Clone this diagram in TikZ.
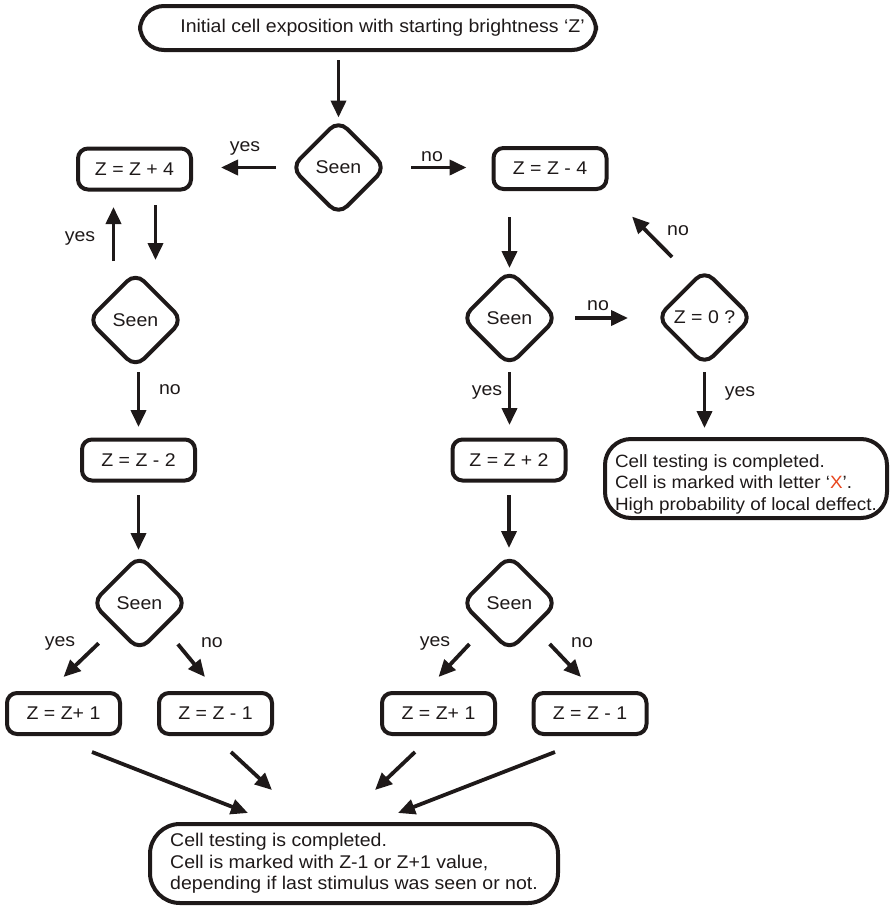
\documentclass[tikz,border=0pt]{standalone}
\usepackage{fontspec}
\setmainfont{Liberation Sans}[FakeStretch=1.06]
\usetikzlibrary{shapes.geometric,arrows.meta}
\definecolor{ink}{RGB}{30,25,25}
\definecolor{xred}{RGB}{232,70,30}
\tikzset{
  every node/.style={font=\fontsize{18.4}{21.5}\selectfont, text=ink},
  box/.style={draw=ink, line width=4pt, rounded corners=10pt, rectangle,
    minimum width=113pt, minimum height=41pt, inner sep=0pt},
  bigbox/.style={draw=ink, line width=4pt, rounded corners=26pt, rectangle,
    align=left, inner sep=0pt},
  dia/.style={draw=ink, line width=4pt, diamond, rounded corners=12pt,
    minimum width=96pt, minimum height=96pt, inner sep=0pt},
  arr/.style={draw=ink, line width=3.8pt, -{Triangle[length=17pt,width=15pt]}},
  lbl/.style={inner sep=0pt}
}
\begin{document}
\begin{tikzpicture}[x=1pt,y=-1pt]
\useasboundingbox (0,0) rectangle (891,908);
% nodes
\node[bigbox, rounded corners=24pt, minimum width=456pt, minimum height=44pt] (top) at (368,28) {\hspace*{29pt}Initial cell exposition with starting brightness ‘Z’};
\node[dia] (d1) at (338.5,167.5) {Seen};
\node[box] (b4p) at (134.5,169) {Z = Z + 4};
\node[box] (b4m) at (550,168.5) {Z = Z - 4};
\node[dia] (d2) at (135.5,320) {Seen};
\node[box] (b2m) at (138.5,460) {Z = Z - 2};
\node[dia] (d3) at (139.5,603) {Seen};
\node[box] (b1pL) at (63.5,713.5) {Z = Z+ 1};
\node[box] (b1mL) at (215.5,713.5) {Z = Z - 1};
\node[dia] (d4) at (509.5,318) {Seen};
\node[dia] (dz) at (704.5,317.5) {Z = 0 ?};
\node[bigbox, minimum width=282pt, minimum height=79pt, font=\fontsize{17.8}{21.5}\selectfont] (bX) at (746,478.5)
  {\rule{0pt}{24pt}Cell testing is completed.\\Cell is marked with letter ‘{\color{xred}X}’.\\High probability of local deffect.};
\node[box] (b2p) at (509,460) {Z = Z + 2};
\node[dia] (d5) at (509.5,603) {Seen};
\node[box] (b1pR) at (438.5,713.5) {Z = Z+ 1};
\node[box] (b1mR) at (590,713.5) {Z = Z - 1};
\node[bigbox, rounded corners=30pt, minimum width=408pt, minimum height=79pt] (bottom) at (354,863.5)
  {Cell testing is completed.\\Cell is marked with Z-1 or Z+1 value,\\depending if last stimulus was seen or not.};
% labels
\node[lbl] (l1) at (245,148) {yes};
\node[lbl] (l2) at (432,157) {no};
\node[lbl] (l3) at (80,238) {yes};
\node[lbl] (l4) at (170,390) {no};
\node[lbl] (l5) at (60,643) {yes};
\node[lbl] (l6) at (212,643) {no};
\node[lbl] (l7) at (487,392) {yes};
\node[lbl] (l8) at (598,306) {no};
\node[lbl] (l9) at (678,231) {no};
\node[lbl] (l10) at (740,393) {yes};
\node[lbl] (l11) at (435,643) {yes};
\node[lbl] (l12) at (582,643) {no};
% connectors
\draw[arr, shorten <=8pt] (top.south -| d1.north) -- (d1.north);
\draw[arr, shorten <=12.5pt, shorten >=28pt] (d1.west) -- (d1.west -| b4p.east);
\draw[arr, shorten <=22.5pt, shorten >=25pt] (d1.east) -- (d1.east -| b4m.west);
\draw[arr, shorten <=9pt, shorten >=15.5pt] ([xshift=-22pt]d2.north) -- ([xshift=-22pt]d2.north |- b4p.south);
\draw[arr, shorten <=13.5pt, shorten >=10pt] ([xshift=21pt]b4p.south) -- ([xshift=21pt]b4p.south |- d2.north);
\draw[arr, shorten <=2pt, shorten >=10.5pt] (b2m.north |- d2.south) -- (b2m.north);
\draw[arr, shorten <=12.5pt, shorten >=3pt] (b2m.south) -- (b2m.south |- d3.north);
\draw[arr, shorten <=22pt] (d3.south west) -- ([yshift=14pt]b1pL.north);
\draw[arr, shorten <=21pt] (d3.south east) -- ([xshift=-10.5pt,yshift=14pt]b1mL.north);
\draw[arr, shorten <=26pt] (d4.north |- b4m.south) -- (d4.north);
\draw[arr, shorten <=15.5pt, shorten >=26.5pt] (d4.east) -- (d4.east -| dz.west);
\draw[arr] ([xshift=-32.5pt,yshift=60.5pt]dz.center) -- ([xshift=82pt,yshift=-48pt]b4m.center);
\draw[arr, shorten <=4.5pt, shorten >=9pt] (dz.south) -- (dz.south |- bX.north);
\draw[arr, shorten <=4pt, shorten >=12.5pt] (d4.south) -- (d4.south |- b2p.north);
\draw[arr, shorten <=12.5pt, shorten >=5pt] (b2p.south) -- (b2p.south |- d5.north);
\draw[arr, shorten <=22pt] (d5.south west) -- ([yshift=14pt]b1pR.north);
\draw[arr, shorten <=22pt] (d5.south east) -- ([xshift=-9pt,yshift=14pt]b1mR.north);
\draw[arr] ([xshift=28.5pt,yshift=-16pt]b1pL.south) -- ([xshift=-106pt,yshift=9pt]bottom.north);
\draw[arr] ([xshift=15.5pt,yshift=-16pt]b1mL.south) -- ([xshift=-82pt,yshift=32pt]bottom.north);
\draw[arr] ([xshift=-23.5pt,yshift=-16pt]b1pR.south) -- ([xshift=21pt,yshift=32pt]bottom.north);
\draw[arr] ([xshift=-35pt,yshift=-16pt]b1mR.south) -- ([xshift=44pt,yshift=9pt]bottom.north);
\end{tikzpicture}
\end{document}
